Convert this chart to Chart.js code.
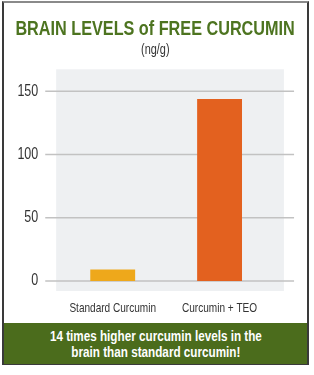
<!DOCTYPE html>
<html>
<head>
<meta charset="utf-8">
<script src="https://cdn.jsdelivr.net/npm/chart.js@4.4.1/dist/chart.umd.min.js"></script>
<style>
  html, body { margin: 0; padding: 0; background: #fff; }
  body { width: 314px; height: 375px; position: relative; overflow: hidden; }
  #frame {
    position: absolute; left: 2px; top: 1px; width: 303px; height: 360px;
    border: 2px solid #3a3a3a; border-top-color: #8a8a8a;
  }
  .squeezed {
    display: inline-block; transform: scaleX(0.78); transform-origin: 50% 0;
    white-space: nowrap; font-family: "Liberation Sans", Arial, sans-serif;
  }
  #title, #unit { position: absolute; left: -100px; width: 510px; text-align: center; }
  #title { top: 16px; }
  #title span { font-weight: bold; font-size: 20.8px; line-height: 24px; color: #4d7420; }
  #unit { top: 40px; }
  #unit span { font-size: 14px; line-height: 16px; color: #333; }
  #banner {
    position: absolute; left: 4px; top: 323px; width: 303px; height: 41px;
    box-sizing: border-box; padding-top: 5px;
    background: #4b6c1c; color: #fff; text-align: center;
  }
  #banner span { font-weight: bold; font-size: 15px; line-height: 16px; }
  #chart { position: absolute; left: 0; top: 0; }
</style>
</head>
<body>
<div id="frame"></div>
<canvas id="chart" width="403" height="375"></canvas>
<div id="title"><span class="squeezed">BRAIN LEVELS of FREE CURCUMIN</span></div>
<div id="unit"><span class="squeezed">(ng/g)</span></div>
<div id="banner"><span class="squeezed">14 times higher curcumin levels in the<br>brain than standard curcumin!</span></div>
<script>
'use strict';

// data
var categories = ['Standard Curcumin', 'Curcumin + TEO'];
var brainLevels = [9, 144];
var barColors = ['#eea81b', '#e3611f'];
var yTicks = [0, 50, 100, 150];

var SX = 0.78; // horizontal squeeze, gives the condensed type of the original
var font = '"Liberation Sans", Arial, sans-serif';

// grey panel + grid lines behind the bars
var panelPlugin = {
    id: 'panel',
    beforeDatasetsDraw: function(chart) {
        var ctx = chart.ctx;
        var area = chart.chartArea;
        var y = chart.scales.y;
        ctx.save();
        ctx.fillStyle = '#eef0f2';
        ctx.fillRect(area.left - 4, area.top - 22, area.right - area.left + 18, area.bottom - area.top + 32);
        ctx.strokeStyle = '#c2c2c2';
        ctx.lineWidth = 1.5;
        y.ticks.forEach(function(t) {
            var py = y.getPixelForValue(t.value);
            ctx.beginPath();
            ctx.moveTo(area.left - 18, py);
            ctx.lineTo(area.right + 27, py);
            ctx.stroke();
        });
        ctx.restore();
    }
};

// draw everything squeezed sideways
var squeeze = {
    id: 'squeeze',
    beforeDraw: function(chart) {
        chart.ctx.save();
        chart.ctx.setTransform(SX, 0, 0, 1, 0, 0);
    },
    afterDraw: function(chart) {
        chart.ctx.restore();
    }
};

var el = document.getElementById('chart');
var myChart = new Chart(el.getContext('2d'), {
    type: 'bar',
    data: {
        labels: categories,
        datasets: [{
            data: brainLevels,
            backgroundColor: barColors,
            borderWidth: 0,
            barPercentage: 0.42,
            categoryPercentage: 1
        }]
    },
    options: {
        responsive: false,
        animation: false,
        devicePixelRatio: 1,
        layout: { padding: { left: 0, right: 53, top: 91.3, bottom: 54 } },
        plugins: {
            legend: { display: false },
            tooltip: { enabled: false }
        },
        scales: {
            x: {
                grid: { display: false },
                border: { display: false },
                ticks: {
                    color: '#333', font: { family: font, size: 12.9 }, padding: 12,
                    maxRotation: 0, minRotation: 0, autoSkip: false
                },
                afterFit: function(scale) { scale.height = 40; }
            },
            y: {
                min: 0,
                max: 150,
                grid: { display: false },
                border: { display: false },
                afterBuildTicks: function(scale) {
                    scale.ticks = yTicks.map(function(v) { return { value: v }; });
                },
                ticks: { color: '#333', font: { family: font, size: 16 }, padding: 19 },
                afterFit: function(scale) { scale.width = 76; }
            }
        }
    },
    plugins: [panelPlugin, squeeze]
});

// bitmap back to 314 wide, the squeeze plugin fits the drawing into it
el.width = 314;
el.style.width = '314px';
el.style.height = '375px';
myChart.draw();
</script>
</body>
</html>
